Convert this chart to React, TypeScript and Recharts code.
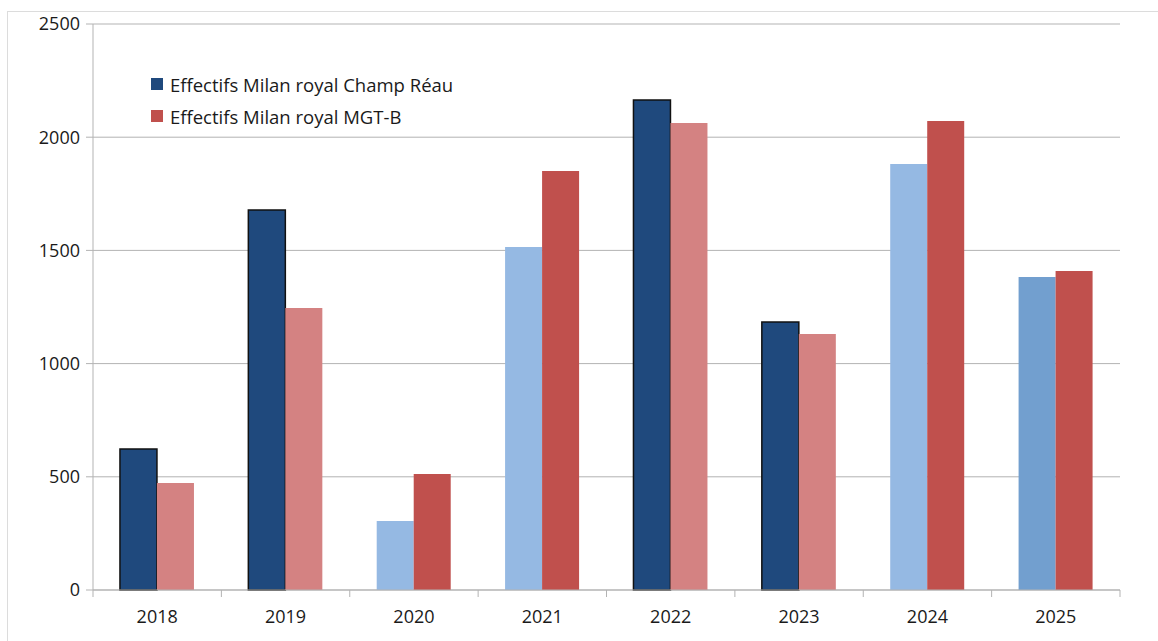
import React from "react";
import { BarChart, Bar, XAxis, YAxis, CartesianGrid, Cell } from "recharts";

const years = ["2018", "2019", "2020", "2021", "2022", "2023", "2024", "2025"];
const champReau = [623, 1678, 305, 1515, 2164, 1184, 1882, 1383];
const mgtB = [473, 1246, 512, 1851, 2063, 1131, 2072, 1409];
const yTicks = [0, 500, 1000, 1500, 2000, 2500];

// couleurs par année (les années incomplètes sont plus claires)
const champColors = ["#1f497d", "#1f497d", "#95b9e3", "#95b9e3", "#1f497d", "#1f497d", "#95b9e3", "#729fcf"];
const mgtColors = ["#d48282", "#d48282", "#c0504d", "#c0504d", "#d48282", "#d48282", "#c0504d", "#c0504d"];

const data = years.map((year, i) => ({ year, champ: champReau[i], mgt: mgtB[i] }));

const W = 1158;
const H = 641;
const margin = { top: 24, right: 38, left: 0, bottom: 21 };
const yAxisWidth = 93;
const plotWidth = W - margin.right - yAxisWidth;
const font = "'Open Sans', sans-serif";
const gray = "#b3b3b3";

const XTick = ({ x, y, payload, index }: any) => {
  const bw = plotWidth / years.length;
  const left = x - bw / 2;
  return (
    <g>
      <line x1={left} y1={y - 8} x2={left} y2={y - 1} stroke={gray} />
      {index === years.length - 1 && (
        <line x1={left + bw} y1={y - 8} x2={left + bw} y2={y - 1} stroke={gray} />
      )}
      <text x={x} y={y + 25} textAnchor="middle" fill="#1a1a1a" fontSize={18} fontFamily={font}>
        {payload.value}
      </text>
    </g>
  );
};

const legendItems = [
  { label: "Effectifs Milan royal Champ Réau", color: "#1f497d" },
  { label: "Effectifs Milan royal MGT-B", color: "#c0504d" },
];

export default function App() {
  return (
    <div style={{ position: "fixed", left: 0, top: 0, width: W, height: H, background: "#fff" }}>
      <div
        style={{
          position: "absolute",
          left: 7,
          top: 11,
          right: 0,
          bottom: 0,
          borderTop: "1px solid #dcdcdc",
          borderLeft: "1px solid #dcdcdc",
        }}
      />
      <div style={{ position: "absolute", left: 0, top: 0 }}>
        <BarChart width={W} height={H} data={data} margin={margin} barCategoryGap="21%" barGap={0}>
          <CartesianGrid horizontal={true} vertical={false} stroke={gray} />
          <XAxis
            dataKey="year"
            axisLine={{ stroke: gray }}
            tickLine={false}
            tick={<XTick />}
            interval={0}
            height={30}
          />
          <YAxis
            domain={[0, 2500]}
            ticks={yTicks}
            width={yAxisWidth}
            axisLine={{ stroke: gray }}
            tickLine={{ stroke: gray }}
            tickSize={7}
            tickMargin={6}
            tick={{ fill: "#1a1a1a", fontSize: 18, fontFamily: font }}
          />
          <Bar dataKey="champ" isAnimationActive={false}>
            {champReau.map((_, i) => (
              <Cell
                key={i}
                fill={champColors[i]}
                stroke={champColors[i] === "#1f497d" ? "#111" : "none"}
                strokeWidth={1.5}
              />
            ))}
          </Bar>
          <Bar dataKey="mgt" isAnimationActive={false}>
            {mgtB.map((_, i) => (
              <Cell key={i} fill={mgtColors[i]} />
            ))}
          </Bar>
        </BarChart>
      </div>
      <div style={{ position: "absolute", left: 151, top: 68, fontFamily: font, fontSize: 18.5, color: "#1a1a1a" }}>
        {legendItems.map((item) => (
          <div key={item.label} style={{ display: "flex", alignItems: "center", height: 32 }}>
            <span style={{ width: 12, height: 12, background: item.color, marginRight: 7 }} />
            <span>{item.label}</span>
          </div>
        ))}
      </div>
    </div>
  );
}
